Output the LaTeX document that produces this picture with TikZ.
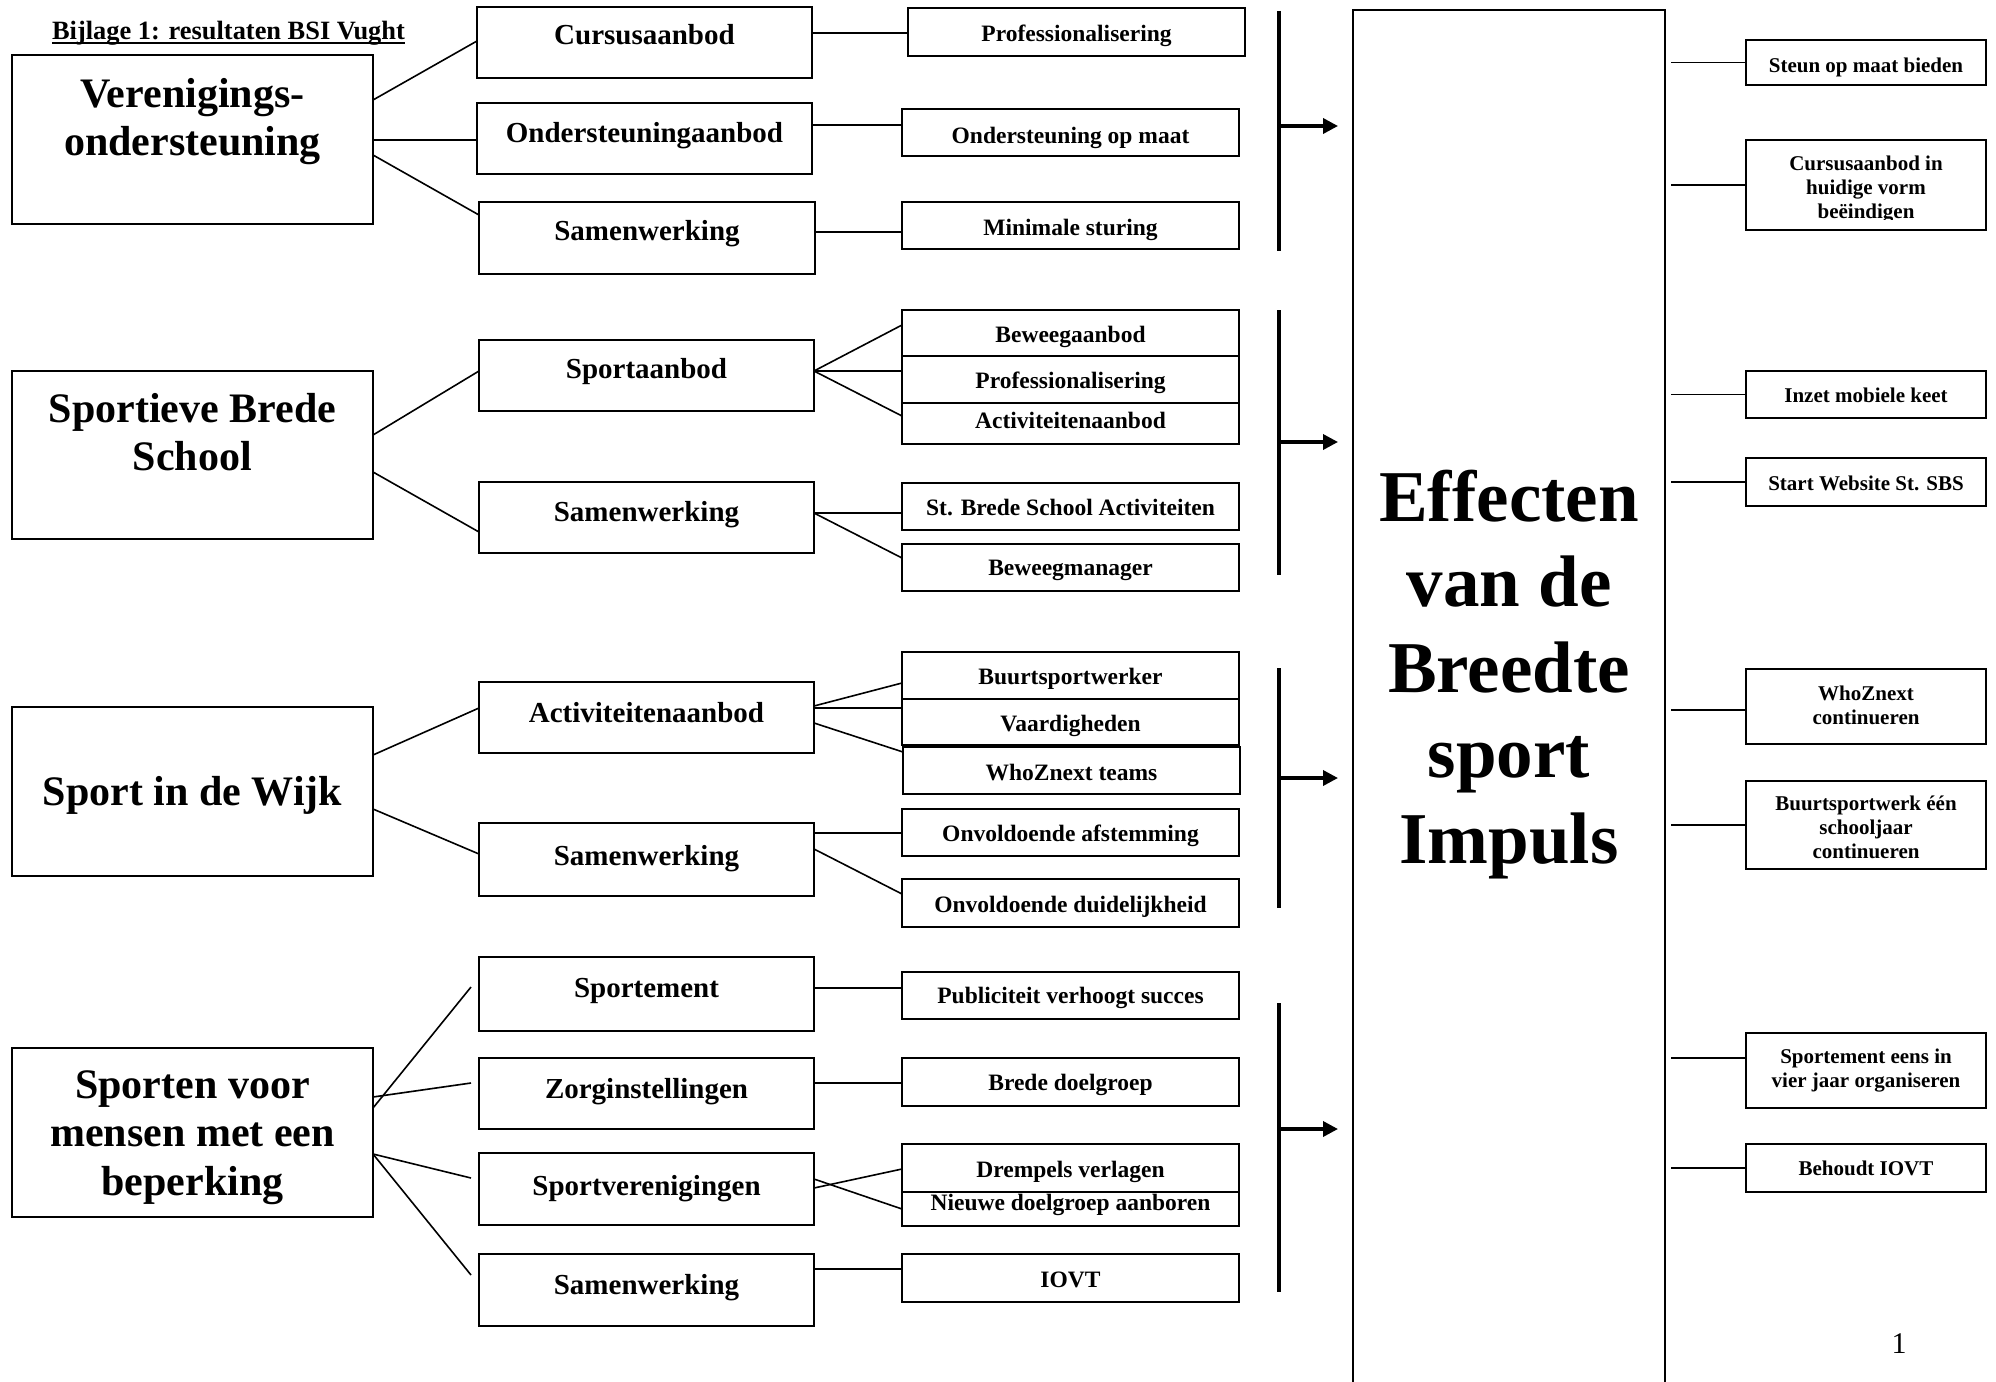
\documentclass[tikz,border=0pt]{standalone}
\usepackage{fontspec}
\setmainfont{Liberation Serif}
\usetikzlibrary{arrows.meta}
\tikzset{
  mainbox/.style={draw, line width=2.6pt, inner sep=0pt, outer sep=0pt},
  midbox/.style={draw, line width=2.6pt, inner sep=0pt, outer sep=0pt},
  subbox/.style={draw, line width=1.3pt, inner sep=0pt, outer sep=0pt},
  resbox/.style={draw, line width=1.3pt, inner sep=0pt, outer sep=0pt},
  bigbox/.style={draw, line width=1.3pt, inner sep=0pt, outer sep=0pt},
  conn/.style={line width=1.6pt},
  barline/.style={line width=4pt},
  arr/.style={line width=3.5pt, -{Triangle[length=15pt,width=15pt]}},
  tmain/.style={anchor=base, inner sep=0pt, font=\bfseries\fontsize{42}{48.5}\selectfont},
  tmid/.style={anchor=base, inner sep=0pt, font=\bfseries\fontsize{29}{33}\selectfont},
  tsub/.style={anchor=base, inner sep=0pt, font=\bfseries\fontsize{23.5}{27}\selectfont},
  tres/.style={anchor=base, inner sep=0pt, font=\bfseries\fontsize{21}{24}\selectfont},
  tbig/.style={anchor=base, inner sep=0pt, font=\bfseries\fontsize{73}{85.5}\selectfont},
}
% box: style, x1, y1, x2, y2, name
\newcommand\bx[6]{\node[#1, minimum width={#4-#2}, minimum height={#5-#3}] (#6) at ({(#2+#4)/2},{(#3+#5)/2}) {};}
% text: style, name, x, baseline, text
\newcommand\tx[5]{\node[#1] (#2) at (#3,#4) {#5};}
\newcommand\ml[1]{\parbox[t]{600pt}{\centering #1}}
\begin{document}
\begin{tikzpicture}[x=1pt, y=-1pt]
\useasboundingbox (0,0) rectangle (1996,1381);
\fill[white] (0,0) rectangle (1996,1381);

% title
\node[anchor=base, inner sep=0pt, font=\bfseries\fontsize{26.4}{30}\selectfont] (title) at (228.5,40) {Bijlage 1: resultaten BSI Vught};
\draw[line width=1.5pt] ([yshift=-3pt]title.base west) -- ([yshift=-3pt]title.base east);

% main boxes
\bx{mainbox}{12}{55}{373}{224}{m1}
\tx{tmain}{m1t}{192.5}{107}{\ml{Verenigings-\\ondersteuning}}
\bx{mainbox}{12}{371}{373}{539}{m2}
\tx{tmain}{m2t}{192.5}{422}{\ml{Sportieve Brede\\School}}
\bx{mainbox}{12}{707}{373}{876}{m3}
\tx{tmain}{m3t}{192.5}{805}{Sport in de Wijk}
\bx{mainbox}{12}{1048}{373}{1217}{m4}
\tx{tmain}{m4t}{192.5}{1098}{\ml{Sporten voor\\mensen met een\\beperking}}

% middle boxes
\bx{midbox}{477}{7}{812}{78}{c1}      \tx{tmid}{c1t}{644.5}{45}{Cursusaanbod}
\bx{midbox}{477}{103}{812}{174}{c2}   \tx{tmid}{c2t}{644.5}{142}{Ondersteuningaanbod}
\bx{midbox}{479}{202}{815}{274}{c3}   \tx{tmid}{c3t}{647}{240}{Samenwerking}
\bx{midbox}{479}{340}{814}{411}{c4}   \tx{tmid}{c4t}{646.5}{378}{Sportaanbod}
\bx{midbox}{479}{482}{814}{553}{c5}   \tx{tmid}{c5t}{646.5}{521}{Samenwerking}
\bx{midbox}{479}{682}{814}{753}{c6}   \tx{tmid}{c6t}{646.5}{722}{Activiteitenaanbod}
\bx{midbox}{479}{823}{814}{896}{c7}   \tx{tmid}{c7t}{646.5}{865}{Samenwerking}
\bx{midbox}{479}{957}{814}{1031}{c8}  \tx{tmid}{c8t}{646.5}{997}{Sportement}
\bx{midbox}{479}{1058}{814}{1129}{c9} \tx{tmid}{c9t}{646.5}{1098}{Zorginstellingen}
\bx{midbox}{479}{1153}{814}{1225}{c10} \tx{tmid}{c10t}{646.5}{1195}{Sportverenigingen}
\bx{midbox}{479}{1254}{814}{1326}{c11} \tx{tmid}{c11t}{646.5}{1294}{Samenwerking}

% sub boxes
\bx{subbox}{908}{8}{1245}{56}{s1}      \tx{tsub}{s1t}{1076.5}{42}{Professionalisering}
\bx{subbox}{902}{109}{1239}{156}{s2}   \tx{tsub}{s2t}{1070.5}{143}{Ondersteuning op maat}
\bx{subbox}{902}{202}{1239}{249}{s3}   \tx{tsub}{s3t}{1070.5}{235}{Minimale sturing}
\bx{subbox}{902}{310}{1239}{356}{s4}   \tx{tsub}{s4t}{1070.5}{342}{Beweegaanbod}
\bx{subbox}{902}{356}{1239}{403}{s5}   \tx{tsub}{s5t}{1070.5}{388}{Professionalisering}
\bx{subbox}{902}{403}{1239}{444}{s6}   \tx{tsub}{s6t}{1070.5}{428}{Activiteitenaanbod}
\bx{subbox}{902}{483}{1239}{530}{s7}   \tx{tsub}{s7t}{1070.5}{515}{St. Brede School Activiteiten}
\bx{subbox}{902}{544}{1239}{591}{s8}   \tx{tsub}{s8t}{1070.5}{575}{Beweegmanager}
\bx{subbox}{902}{652}{1239}{699}{s9}   \tx{tsub}{s9t}{1070.5}{684}{Buurtsportwerker}
\bx{subbox}{902}{699}{1239}{745}{s10}  \tx{tsub}{s10t}{1070.5}{731}{Vaardigheden}
\bx{subbox}{903}{747}{1240}{794}{s11}  \tx{tsub}{s11t}{1071.5}{780}{WhoZnext teams}
\bx{subbox}{902}{809}{1239}{856}{s12}  \tx{tsub}{s12t}{1070.5}{841}{Onvoldoende afstemming}
\bx{subbox}{902}{879}{1239}{927}{s13}  \tx{tsub}{s13t}{1070.5}{912}{Onvoldoende duidelijkheid}
\bx{subbox}{902}{972}{1239}{1019}{s14} \tx{tsub}{s14t}{1070.5}{1003}{Publiciteit verhoogt succes}
\bx{subbox}{902}{1058}{1239}{1106}{s15} \tx{tsub}{s15t}{1070.5}{1090}{Brede doelgroep}
\bx{subbox}{902}{1144}{1239}{1192}{s16} \tx{tsub}{s16t}{1070.5}{1177}{Drempels verlagen}
\bx{subbox}{902}{1192}{1239}{1226}{s17} \tx{tsub}{s17t}{1070.5}{1210}{Nieuwe doelgroep aanboren}
\bx{subbox}{902}{1254}{1239}{1302}{s18} \tx{tsub}{s18t}{1070.5}{1287}{IOVT}

% big box
\bx{bigbox}{1353}{10}{1665}{1395}{big}
\tx{tbig}{bigt}{1509}{521}{\ml{Effecten\\van de\\Breedte\\sport\\Impuls}}

% result boxes
\bx{resbox}{1746}{40}{1986}{85}{r1}     \tx{tres}{r1t}{1866}{72}{Steun op maat bieden}
\bx{resbox}{1746}{140}{1986}{230}{r2}
\begin{scope}
  \clip (1746,140) rectangle (1986,219);
  \tx{tres}{r2t}{1866}{170}{\ml{Cursusaanbod in\\huidige vorm\\beëindigen}}
\end{scope}
\bx{resbox}{1746}{371}{1986}{418}{r3}   \tx{tres}{r3t}{1866}{402}{Inzet mobiele keet}
\bx{resbox}{1746}{458}{1986}{506}{r4}   \tx{tres}{r4t}{1866}{490}{Start Website St. SBS}
\bx{resbox}{1746}{669}{1986}{744}{r5}   \tx{tres}{r5t}{1866}{700}{\ml{WhoZnext\\continueren}}
\bx{resbox}{1746}{781}{1986}{869}{r6}
\begin{scope}
  \clip (1746,781) rectangle (1986,860);
  \tx{tres}{r6t}{1866}{810}{\ml{Buurtsportwerk één\\schooljaar\\continueren}}
\end{scope}
\bx{resbox}{1746}{1033}{1986}{1108}{r7} \tx{tres}{r7t}{1866}{1063}{\ml{Sportement eens in\\vier jaar organiseren}}
\bx{resbox}{1746}{1144}{1986}{1192}{r8} \tx{tres}{r8t}{1866}{1175}{Behoudt IOVT}

% page number
\node[anchor=base, inner sep=0pt, font=\fontsize{30}{34}\selectfont] (pg) at (1899,1353) {1};

% main -> middle connectors
\draw[conn] (m1.east |- 0,100) -- (c1.west |- 0,41);
\draw[conn] (m1.east |- 0,140) -- (c2.west |- 0,140);
\draw[conn] (m1.east |- 0,155) -- (c3.west |- 0,215);
\draw[conn] (m2.east |- 0,435) -- (c4.west |- 0,371);
\draw[conn] (m2.east |- 0,472) -- (c5.west |- 0,532);
\draw[conn] (m3.east |- 0,755) -- (c6.west |- 0,708);
\draw[conn] (m3.east |- 0,809) -- (c7.west |- 0,854);
\coordinate (mx) at (471,0);
\draw[conn] (m4.east |- 0,1108) -- (mx |- 0,987);
\draw[conn] (m4.east |- 0,1097) -- (mx |- 0,1083);
\draw[conn] (m4.east |- 0,1154) -- (mx |- 0,1178);
\draw[conn] (m4.east |- 0,1154) -- (mx |- 0,1275);

% middle -> sub connectors
\draw[conn] (c1.east |- 0,33) -- (s1.west |- 0,33);
\draw[conn] (c2.east |- 0,125) -- (s2.west |- 0,125);
\draw[conn] (c3.east |- 0,232) -- (s3.west |- 0,232);
\draw[conn] (c4.east |- 0,371) -- (s4.west |- 0,325);
\draw[conn] (c4.east |- 0,371) -- (s5.west |- 0,371);
\draw[conn] (c4.east |- 0,371) -- (s6.west |- 0,416);
\draw[conn] (c5.east |- 0,513) -- (s7.west |- 0,513);
\draw[conn] (c5.east |- 0,513) -- (s8.west |- 0,558);
\draw[conn] (c6.east |- 0,706) -- (s9.west |- 0,683);
\draw[conn] (c6.east |- 0,708) -- (s10.west |- 0,708);
\draw[conn] (c6.east |- 0,723) -- (s11.west |- 0,752);
\draw[conn] (c7.east |- 0,833) -- (s12.west |- 0,833);
\draw[conn] (c7.east |- 0,849) -- (s13.west |- 0,894);
\draw[conn] (c8.east |- 0,988) -- (s14.west |- 0,988);
\draw[conn] (c9.east |- 0,1083) -- (s15.west |- 0,1083);
\draw[conn] (c10.east |- 0,1188) -- (s16.west |- 0,1169);
\draw[conn] (c10.east |- 0,1179) -- (s17.west |- 0,1209);
\draw[conn] (c11.east |- 0,1269) -- (s18.west |- 0,1269);

% brackets and arrows
\coordinate (bx) at (1279,0);
\coordinate (tipx) at (1338,0);
\draw[barline] (bx |- 0,11) -- (bx |- 0,251);
\draw[arr] (bx |- 0,126) -- (tipx |- 0,126);
\draw[barline] (bx |- 0,310) -- (bx |- 0,575);
\draw[arr] (bx |- 0,442) -- (tipx |- 0,442);
\draw[barline] (bx |- 0,668) -- (bx |- 0,908);
\draw[arr] (bx |- 0,778) -- (tipx |- 0,778);
\draw[barline] (bx |- 0,1003) -- (bx |- 0,1292);
\draw[arr] (bx |- 0,1129) -- (tipx |- 0,1129);

% big box -> results connectors
\coordinate (rl) at (1671,0);
\draw[conn] (rl |- r1.west) -- (r1.west);
\draw[conn] (rl |- r2.west) -- (r2.west);
\draw[conn] (rl |- r3.west) -- (r3.west);
\draw[conn] (rl |- r4.west) -- (r4.west);
\draw[conn] (rl |- 0,710) -- (r5.west |- 0,710);
\draw[conn] (rl |- r6.west) -- (r6.west);
\draw[conn] (rl |- 0,1058) -- (r7.west |- 0,1058);
\draw[conn] (rl |- r8.west) -- (r8.west);
\end{tikzpicture}
\end{document}
